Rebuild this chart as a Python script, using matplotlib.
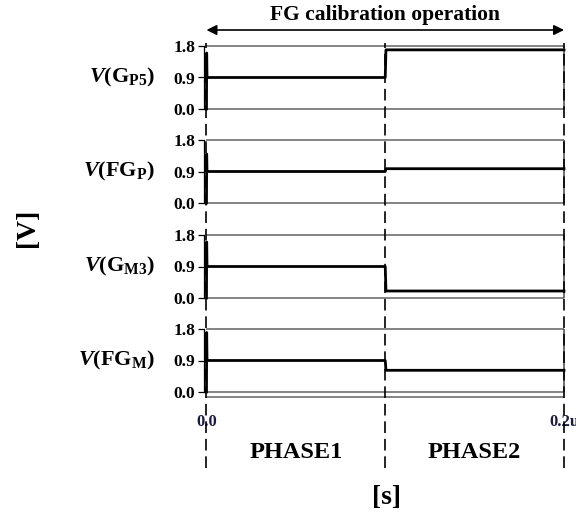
import matplotlib
matplotlib.use('Agg')
import matplotlib.pyplot as plt

# data
time = [0.0, 0.0001, 0.0003, 0.1, 0.1004, 0.2]
signals = {
    r'$\mathit{V}$(G$_{\mathrm{P5}}$)': [0.0, 1.60, 0.90, 0.90, 1.69, 1.69],
    r'$\mathit{V}$(FG$_{\mathrm{P}}$)': [0.0, 1.40, 0.90, 0.90, 0.98, 0.98],
    r'$\mathit{V}$(G$_{\mathrm{M3}}$)': [0.0, 1.60, 0.90, 0.90, 0.20, 0.20],
    r'$\mathit{V}$(FG$_{\mathrm{M}}$)': [0.0, 1.70, 0.90, 0.90, 0.62, 0.62],
}
yticks = [0.0, 0.9, 1.8]
ytick_labels = ['0.0', '0.9', '1.8']
phase_bounds = [0.0, 0.1, 0.2]
phase_names = ['PHASE1', 'PHASE2']
xtick_labels = ['0.0', '0.2u']

plt.rcParams['font.family'] = 'Liberation Serif'
plt.rcParams['font.weight'] = 'bold'
plt.rcParams['mathtext.fontset'] = 'custom'
plt.rcParams['mathtext.rm'] = 'Liberation Serif:bold'
plt.rcParams['mathtext.it'] = 'Liberation Serif:italic:bold'
plt.rcParams['mathtext.bf'] = 'Liberation Serif:bold'

W, H = 576, 520
fig = plt.figure(figsize=(W / 100, H / 100), dpi=100)

x0_px, x1_px = 203.8, 564.0
xlim = (-0.0015, 0.2)
ylim = (-0.2, 1.95)
px_per_v = 35.0
top18 = [46, 140, 235, 329]

axes = []
for i, (name, vals) in enumerate(signals.items()):
    top = top18[i] - (ylim[1] - 1.8) * px_per_v
    bot = top18[i] + 1.8 * px_per_v - ylim[0] * px_per_v
    ax = fig.add_axes([x0_px / W, 1 - bot / H, (x1_px - x0_px) / W, (bot - top) / H])
    ax.set_xlim(*xlim)
    ax.set_ylim(*ylim)
    ax.patch.set_alpha(0)
    for s in ['top', 'right', 'bottom']:
        ax.spines[s].set_visible(False)
    ax.spines['left'].set_bounds(0, 1.8)
    ax.spines['left'].set_linewidth(0.9)
    # box lines
    ax.hlines([0.0, 1.8], 0, 0.2, color='#7a7a7a', lw=1.3, clip_on=False)
    ax.vlines(0.2, 0, 1.8, color='#555555', lw=1.2, clip_on=False)
    if i == 3:
        ax.hlines(-0.14, 0, 0.2, color='#7a7a7a', lw=1.3, clip_on=False)
    ax.plot(time, vals, color='black', lw=2.0, clip_on=False, zorder=3)
    ax.set_yticks(yticks)
    ax.set_yticklabels(ytick_labels, fontsize=12.5, fontweight='bold')
    ax.tick_params(axis='y', direction='out', length=4, width=0.9, pad=2)
    ax.set_ylabel(name, fontsize=16, fontweight='bold', rotation=0, ha='right', va='center')
    ax.yaxis.set_label_coords(-0.135, (0.9 - ylim[0]) / (ylim[1] - ylim[0]))
    if i == 3:
        ax.set_xticks([phase_bounds[0], phase_bounds[-1]])
        ax.set_xticklabels(xtick_labels, fontsize=12, fontweight='bold', color='#1c1c40')
        ax.tick_params(axis='x', length=0, pad=11)
    else:
        ax.set_xticks([])
    axes.append(ax)

# overlay for dashed phase lines, arrow and phase names
ov = fig.add_axes([x0_px / W, 0, (x1_px - x0_px) / W, 1])
ov.set_xlim(*xlim)
ov.set_ylim(0, 1)
ov.axis('off')
ov.patch.set_alpha(0)
ov.vlines(phase_bounds, 1 - 468 / H, 1 - 43 / H, color='black', lw=1.2,
          linestyles=(0, (7, 3.5)), clip_on=False)
ov.annotate('', xy=(0.2, 1 - 30 / H), xytext=(0.0, 1 - 30 / H),
            arrowprops=dict(arrowstyle='<|-|>', color='black', lw=1.2,
                            mutation_scale=15, shrinkA=0, shrinkB=0))
ov.text(0.1, 1 - 15 / H, 'FG calibration operation', ha='center', va='center',
        fontsize=15.5, fontweight='bold')
for k, nm in enumerate(phase_names):
    ov.text((phase_bounds[k] + phase_bounds[k + 1]) / 2, 1 - 452 / H, nm,
            ha='center', va='center', fontsize=17.5, fontweight='bold')

fig.text(386 / W, 1 - 497 / H, '[s]', ha='center', va='center', fontsize=20, fontweight='bold')
fig.text(28 / W, 1 - 228 / H, '[V]', ha='center', va='center', fontsize=20,
         fontweight='bold', rotation=90)

fig.savefig('out.png', dpi=100)
